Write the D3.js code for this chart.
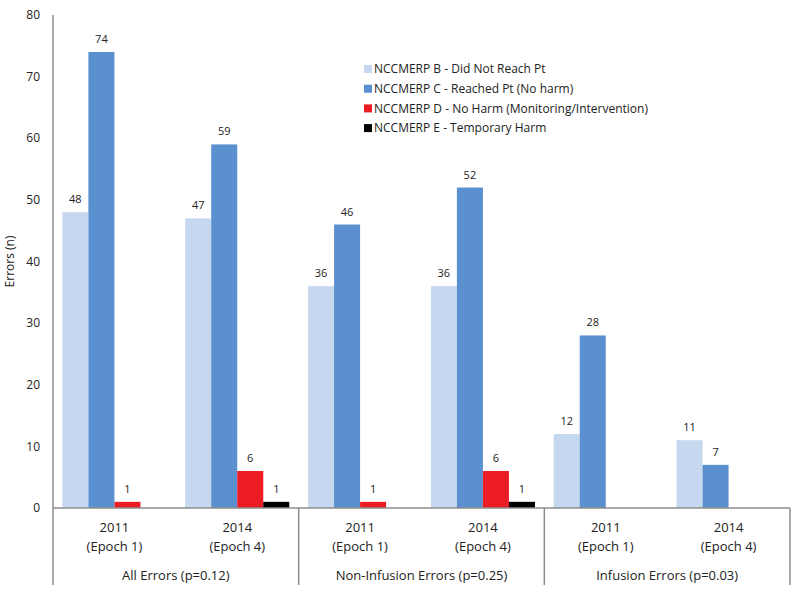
<!DOCTYPE html>
<html>
<head>
<meta charset="utf-8">
<script src="https://cdn.jsdelivr.net/npm/d3@7"></script>
<style>
  body { margin: 0; background: #fff; }
  text { font-family: "Open Sans", "Noto Sans", sans-serif; fill: #222; }
</style>
</head>
<body>
<div id="chart"></div>
<script>
// chart values
const years = ["2011", "2014", "2011", "2014", "2011", "2014"];
const epochs = ["(Epoch 1)", "(Epoch 4)", "(Epoch 1)", "(Epoch 4)", "(Epoch 1)", "(Epoch 4)"];
const groups = ["All Errors (p=0.12)", "Non-Infusion Errors (p=0.25)", "Infusion Errors (p=0.03)"];
const seriesNames = [
  "NCCMERP B - Did Not Reach Pt",
  "NCCMERP C - Reached Pt (No harm)",
  "NCCMERP D - No Harm (Monitoring/Intervention)",
  "NCCMERP E - Temporary Harm"
];
const valuesB = [48, 47, 36, 36, 12, 11];
const valuesC = [74, 59, 46, 52, 28, 7];
const valuesD = [1, 6, 1, 6, 0, 0];
const valuesE = [0, 1, 0, 1, 0, 0];
const yTicks = [0, 10, 20, 30, 40, 50, 60, 70, 80];

const colors = ["#c6d8ef", "#5a8fd0", "#ec1c24", "#000000"];

const W = 800, H = 595;
const margin = {top: 15, right: 10, bottom: 87, left: 53};
const width = W - margin.left - margin.right;
const height = H - margin.top - margin.bottom;

const svg = d3.select("#chart").append("svg")
  .attr("width", W).attr("height", H);
const chart = svg.append("g")
  .attr("transform", "translate(" + margin.left + "," + margin.top + ")");

const cats = d3.range(years.length);
const xscale = d3.scaleBand().domain(cats).range([0, width]).padding(0);
const inner = d3.scaleBand().domain(d3.range(4))
  .range([0, xscale.bandwidth()]).paddingInner(0).paddingOuter(0.36);
const yscale = d3.scaleLinear().domain([0, 80]).range([height, 0]);

// y axis labels
chart.append("g").selectAll("text")
  .data(yTicks)
  .join("text")
  .attr("x", -13)
  .attr("y", d => yscale(d))
  .attr("dy", "0.35em")
  .attr("text-anchor", "end")
  .style("font-size", "12px")
  .text(d => d);

chart.append("text")
  .attr("transform", "translate(" + (-39) + "," + (height / 2) + ") rotate(-90)")
  .attr("text-anchor", "middle")
  .style("font-size", "12px")
  .text("Errors (n)");

// bars
const allSeries = [valuesB, valuesC, valuesD, valuesE];
const barData = [];
allSeries.forEach((vals, s) => {
  vals.forEach((v, i) => barData.push({s: s, i: i, v: v}));
});

chart.append("g").selectAll("rect")
  .data(barData.filter(d => d.v > 0))
  .join("rect")
  .attr("x", d => xscale(d.i) + inner(d.s))
  .attr("width", inner.bandwidth())
  .attr("y", d => yscale(d.v))
  .attr("height", d => height - yscale(d.v))
  .attr("fill", d => colors[d.s]);

chart.append("g").selectAll("text")
  .data(barData.filter(d => d.v > 0))
  .join("text")
  .attr("x", d => xscale(d.i) + inner(d.s) + inner.bandwidth() / 2)
  .attr("y", d => yscale(d.v) - 9)
  .attr("text-anchor", "middle")
  .style("font-size", "11px")
  .text(d => d.v);

// axes lines
const axisColor = "#8c8c8c";
chart.append("line")
  .attr("x1", 0).attr("x2", 0)
  .attr("y1", 0).attr("y2", height + 77)
  .attr("stroke", axisColor).attr("stroke-width", 1.5);
chart.append("line")
  .attr("x1", 0).attr("x2", width)
  .attr("y1", height).attr("y2", height)
  .attr("stroke", axisColor).attr("stroke-width", 1.5);

const groupEdges = [2, 4, 6];
chart.append("g").selectAll("line")
  .data(groupEdges)
  .join("line")
  .attr("x1", d => d === 6 ? width : xscale(d))
  .attr("x2", d => d === 6 ? width : xscale(d))
  .attr("y1", height).attr("y2", height + 77)
  .attr("stroke", axisColor).attr("stroke-width", 1.5);

// category labels
const catLabels = chart.append("g").selectAll("g")
  .data(cats)
  .join("g")
  .attr("transform", d => "translate(" + (xscale(d) + xscale.bandwidth() / 2) + "," + height + ")");
catLabels.append("text")
  .attr("y", 24).attr("text-anchor", "middle")
  .style("font-size", "13px")
  .text(d => years[d]);
catLabels.append("text")
  .attr("y", 43).attr("text-anchor", "middle")
  .style("font-size", "13px")
  .text(d => epochs[d]);

chart.append("g").selectAll("text")
  .data(groups)
  .join("text")
  .attr("x", (d, i) => xscale(i * 2) + xscale.bandwidth())
  .attr("y", height + 72)
  .attr("text-anchor", "middle")
  .style("font-size", "13px")
  .text(d => d);

// legend
const legend = svg.append("g").attr("transform", "translate(364,69)");
const items = legend.selectAll("g")
  .data(seriesNames)
  .join("g")
  .attr("transform", (d, i) => "translate(0," + i * 19.7 + ")");
items.append("rect")
  .attr("x", 0).attr("y", -4).attr("width", 8).attr("height", 8)
  .attr("fill", (d, i) => colors[i]);
items.append("text")
  .attr("x", 10).attr("dy", "0.35em")
  .style("font-size", "12px")
  .text(d => d);
</script>
</body>
</html>
